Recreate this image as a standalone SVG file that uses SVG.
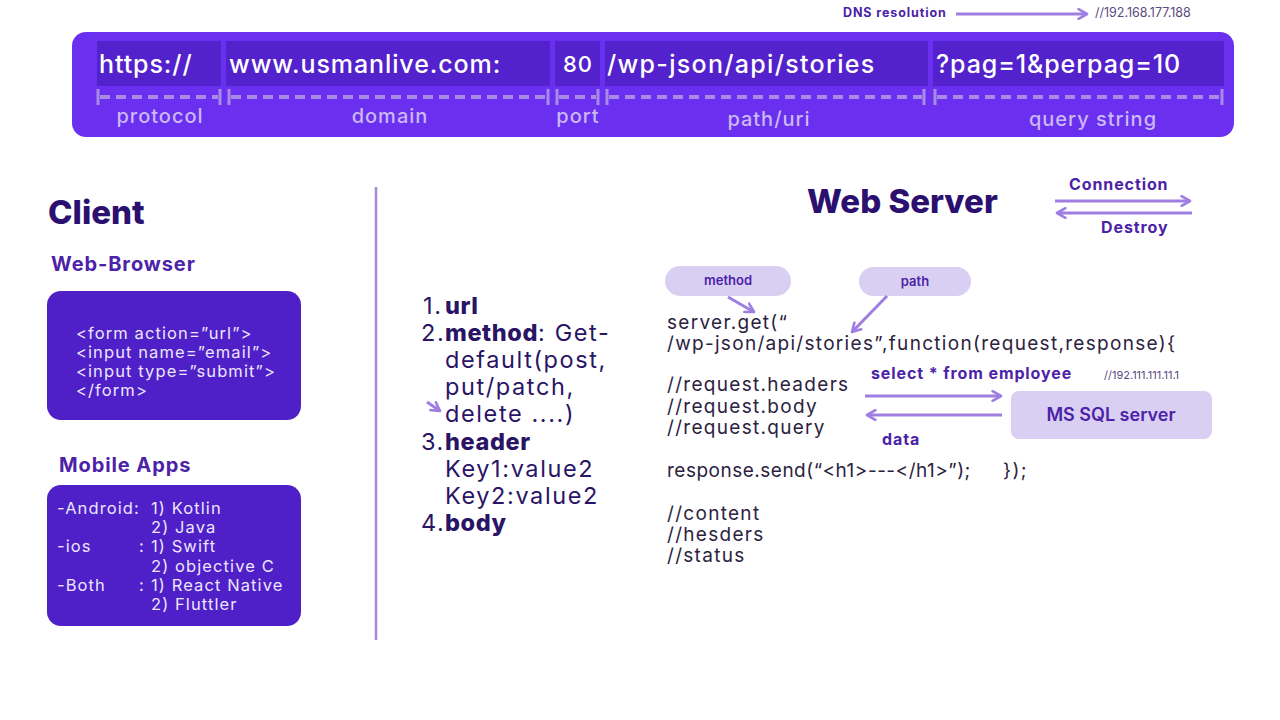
<svg xmlns="http://www.w3.org/2000/svg" width="1280" height="720" viewBox="0 0 1280 720">
<style>
text{font-family:Inter,"Noto Sans","Liberation Sans",sans-serif}
.seg{fill:#5322cc}
.segt{fill:#ffffff;font-size:25px;font-weight:500;letter-spacing:0.9px}
.dash{stroke:#a88be9;stroke-width:4;stroke-dasharray:10 6;fill:none}
.tick{stroke:#a88be9;stroke-width:3;fill:none}
.lbl{fill:#cbb8f6;font-size:20px;font-weight:500;text-anchor:middle;letter-spacing:1px}
.title{fill:#2b1070;font-size:33px;font-weight:800}
.sub{fill:#4b22a8;font-size:20px;font-weight:700;letter-spacing:0.9px}
.box{fill:#4f1fc7}
.boxt{fill:#ece6ff;font-size:16.5px;letter-spacing:1.1px}
.list{fill:#2a1466;font-size:23.5px;letter-spacing:1.6px}
.b{font-weight:800;letter-spacing:0.6px}
.code{fill:#2c2240;font-size:19px;letter-spacing:1.3px}
.tag{fill:#4b22a8;font-size:16px;font-weight:700;letter-spacing:0.9px}
.pill{fill:#d9cff3}
.pillt{fill:#4b22a8;font-size:13px;font-weight:600;text-anchor:middle}
.conn{stroke:#9f7ee2;stroke-width:3;fill:none}
</style>
<defs>
<marker id="ah" viewBox="0 0 10 10" refX="8" refY="5" markerWidth="4" markerHeight="4" orient="auto-start-reverse">
<path d="M1,1 L8,5 L1,9" fill="none" stroke="#9f7ee2" stroke-width="2.2" stroke-linecap="round" stroke-linejoin="round"/>
</marker>
</defs>
<rect width="1280" height="720" fill="#ffffff"/>

<g id="dns">
<text x="843" y="17" class="tag" style="font-size:12.5px">DNS resolution</text>
<text x="1095" y="17" fill="#5a4a80" font-size="12.5">//192.168.177.188</text>
</g>

<g id="url-bar">
<rect x="72" y="32" width="1162" height="105" rx="14" fill="#6b30ef"/>
<rect class="seg" x="97" y="41" width="124" height="45"/>
<rect class="seg" x="226" y="41" width="324" height="45"/>
<rect class="seg" x="555" y="41" width="45" height="45"/>
<rect class="seg" x="605" y="41" width="323" height="45"/>
<rect class="seg" x="933" y="41" width="291" height="45"/>
<text class="segt" x="99" y="73">https://</text>
<text class="segt" x="229" y="73">www.usmanlive.com:</text>
<text class="segt" x="563" y="72" style="font-size:22px">80</text>
<text class="segt" x="607" y="73" style="letter-spacing:1.3px">/wp-json/api/stories</text>
<text class="segt" x="936" y="73">?pag=1&amp;perpag=10</text>
<path class="tick" d="M98,89 V105 M220,89 V105 M229,89 V105 M548,89 V105 M557,89 V105 M598,89 V105 M607,89 V105 M924,89 V105 M935,89 V105 M1222,89 V105"/>
<path class="dash" d="M100,97 H218 M231,97 H546 M559,97 H596 M609,97 H922 M937,97 H1220"/>
<text class="lbl" x="160" y="123">protocol</text>
<text class="lbl" x="390" y="123">domain</text>
<text class="lbl" x="578" y="123">port</text>
<text class="lbl" x="769" y="126">path/uri</text>
<text class="lbl" x="1093" y="126">query string</text>
</g>

<line x1="376" y1="187" x2="376" y2="640" stroke="#a58ae0" stroke-width="2.5"/>

<g id="client">
<text class="title" x="48" y="224">Client</text>
</g>

<g id="web-browser">
<text class="sub" x="51" y="271">Web-Browser</text>
<rect class="box" x="47" y="291" width="254" height="129" rx="14"/>
<text class="boxt" x="76" y="339">&lt;form action=”url”&gt;</text>
<text class="boxt" x="76" y="358">&lt;input name=”email”&gt;</text>
<text class="boxt" x="76" y="377">&lt;input type=”submit”&gt;</text>
<text class="boxt" x="76" y="396">&lt;/form&gt;</text>
</g>

<g id="mobile-apps">
<text class="sub" x="59" y="472">Mobile Apps</text>
<rect class="box" x="47" y="485" width="254" height="141" rx="14"/>
<text class="boxt" x="57" y="514">-Android:</text>
<text class="boxt" x="151" y="514">1) Kotlin</text>
<text class="boxt" x="151" y="533">2) Java</text>
<text class="boxt" x="57" y="552">-ios</text>
<text class="boxt" x="139" y="552">:</text>
<text class="boxt" x="151" y="552">1) Swift</text>
<text class="boxt" x="151" y="572">2) objective C</text>
<text class="boxt" x="57" y="591">-Both</text>
<text class="boxt" x="139" y="591">:</text>
<text class="boxt" x="151" y="591">1) React Native</text>
<text class="boxt" x="151" y="610">2) Fluttler</text>
</g>

<g id="request-list">
<text class="list" x="423" y="314">1.</text><text class="list b" x="445" y="314">url</text>
<text class="list" x="421" y="341">2.</text><text class="list" x="445" y="341"><tspan class="b">method</tspan>: Get-</text>
<text class="list" x="445" y="368">default(post,</text>
<text class="list" x="445" y="395">put/patch,</text>
<text class="list" x="445" y="422">delete ....)</text>
<text class="list" x="421" y="450">3.</text><text class="list b" x="445" y="450">header</text>
<text class="list" x="445" y="477">Key1:value2</text>
<text class="list" x="445" y="504">Key2:value2</text>
<text class="list" x="421" y="531">4.</text><text class="list b" x="445" y="531">body</text>
</g>

<g id="web-server">
<text class="title" x="807" y="213">Web Server</text>
<text class="tag" x="1069" y="190">Connection</text>
<text class="tag" x="1101" y="233">Destroy</text>
</g>

<g id="method-pill">
<rect class="pill" x="665" y="266" width="126" height="30" rx="15"/>
<text class="pillt" x="728" y="285">method</text>
</g>
<g id="path-pill">
<rect class="pill" x="859" y="267" width="112" height="29" rx="14.5"/>
<text class="pillt" x="915" y="286">path</text>
</g>

<g id="server-code">
<text class="code" x="667" y="329">server.get(“</text>
<text class="code" x="667" y="350">/wp-json/api/stories”,function(request,response){</text>
<text class="code" x="667" y="391">//request.headers</text>
<text class="code" x="667" y="413">//request.body</text>
<text class="code" x="667" y="434">//request.query</text>
<text class="code" x="667" y="477" style="letter-spacing:0.5px">response.send(“&lt;h1&gt;---&lt;/h1&gt;”);</text>
<text class="code" x="1003" y="477">});</text>
<text class="code" x="667" y="520">//content</text>
<text class="code" x="667" y="541">//hesders</text>
<text class="code" x="667" y="562">//status</text>
<text class="tag" x="871" y="379">select * from employee</text>
<text fill="#5a4a80" font-size="11" x="1104" y="379">//192.111.111.11.1</text>
<text class="tag" x="882" y="445">data</text>
</g>

<g id="ms-sql">
<rect class="pill" x="1011" y="391" width="201" height="48" rx="8"/>
<text x="1111" y="421" text-anchor="middle" fill="#4b22a8" font-size="18" font-weight="600">MS SQL server</text>
</g>

<g id="connectors">
<line class="conn" x1="956" y1="14" x2="1087" y2="14" marker-end="url(#ah)"/>
<line class="conn" x1="1055" y1="201" x2="1190" y2="201" marker-end="url(#ah)"/>
<line class="conn" x1="1192" y1="213" x2="1057" y2="213" marker-end="url(#ah)"/>
<line class="conn" x1="728" y1="297" x2="754" y2="312" marker-end="url(#ah)"/>
<line class="conn" x1="887" y1="296" x2="852" y2="332" marker-end="url(#ah)"/>
<line class="conn" x1="427" y1="402" x2="440" y2="411" marker-end="url(#ah)"/>
<line class="conn" x1="865" y1="396" x2="1001" y2="396" marker-end="url(#ah)"/>
<line class="conn" x1="1002" y1="415" x2="867" y2="415" marker-end="url(#ah)"/>
</g>
</svg>
